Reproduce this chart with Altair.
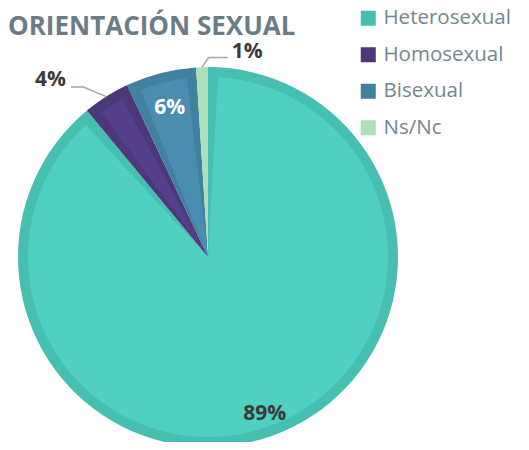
import math
import altair as alt
import pandas as pd

# ---- data ----
categories = ["Heterosexual", "Homosexual", "Bisexual", "Ns/Nc"]
values = [89, 4, 6, 1]
label_texts = ["89%", "4%", "6%", "1%"]

# ---- styles ----
border_colors = ["#46BFB0", "#4A3878", "#42809F", "#AEDFBB"]
fill_colors = ["#4FD0C1", "#533F8A", "#4A8DB1", "#AEDFBB"]
label_colors = {"Heterosexual": "#3A3A3A", "Bisexual": "#FFFFFF"}
TITLE_COLOR = "#6B7C87"
LEGEND_COLOR = "#758690"
LEADER_COLOR = "#A6A6A6"

# ---- layout ----
W, H = 513, 434
CX, CY, R = 200, 249, 190
RING = 10
# inside labels: radius factor ; outside labels: elbow offset (units) and tail length (units)
inside_layout = {"Heterosexual": 0.88, "Bisexual": 0.81}
outside_layout = {"Homosexual": (-0.12, 0.05, -0.065), "Ns/Nc": (0.035, 0.05, 0.10)}

pie_df = pd.DataFrame({"cat": categories, "value": values,
                       "order": list(range(len(categories)))})

total = float(sum(values))
cum = 0.0
in_rows, leader_rows, out_rows = [], [], []
for cat, v, txt in zip(categories, values, label_texts):
    mid = (cum + v / 2.0) / total * 2 * math.pi
    cum += v
    sx, sy = math.sin(mid), math.cos(mid)
    if cat in inside_layout:
        k = inside_layout[cat]
        in_rows.append({"cat": cat, "x": sx * k, "y": sy * k, "text": txt,
                        "tcolor": label_colors[cat]})
    else:
        ex, ey, tail = outside_layout[cat]
        p0 = (sx, sy)
        p1 = (sx + ex, sy + ey)
        p2 = (p1[0] + tail, p1[1])
        for i, (px, py) in enumerate([p0, p1, p2]):
            leader_rows.append({"cat": cat, "seq": i, "x": px, "y": py})
        out_rows.append({"cat": cat, "x": p2[0], "y": p2[1], "text": txt,
                         "side": "left" if tail < 0 else "right"})

in_df = pd.DataFrame(in_rows)
leader_df = pd.DataFrame(leader_rows)
out_df = pd.DataFrame(out_rows)

xscale = alt.Scale(domain=[-1, 1], range=[CX - R, CX + R])
yscale = alt.Scale(domain=[-1, 1], range=[CY + R, CY - R])

theta = alt.Theta("value:Q", stack=True)
order = alt.Order("order:Q")

outer = alt.Chart(pie_df).mark_arc(radius=R).encode(
    theta=theta, order=order,
    x=alt.value(CX), y=alt.value(CY),
    color=alt.Color("cat:N", sort=categories,
                    scale=alt.Scale(domain=categories, range=border_colors),
                    legend=alt.Legend(orient="none", legendX=350, legendY=0,
                                      title=None, symbolType="square",
                                      symbolSize=225, symbolStrokeWidth=0,
                                      symbolOpacity=1,
                                      labelFont="Open Sans", labelFontSize=20.5,
                                      labelColor=LEGEND_COLOR, labelOffset=5,
                                      rowPadding=15.5, padding=0)),
)

inner_r = R - RING
inner = alt.Chart(pie_df).mark_arc(radius=inner_r, padAngle=2 * RING / inner_r).encode(
    theta=theta, order=order,
    x=alt.value(CX), y=alt.value(CY),
    color=alt.Color("cat:N", sort=categories,
                    scale=alt.Scale(domain=categories, range=fill_colors),
                    legend=None),
)

leaders = alt.Chart(leader_df).mark_line(color=LEADER_COLOR, strokeWidth=1.5).encode(
    x=alt.X("x:Q", scale=xscale, axis=None),
    y=alt.Y("y:Q", scale=yscale, axis=None),
    detail="cat:N",
    order="seq:Q",
)

in_labels = alt.Chart(in_df).mark_text(font="Open Sans", fontSize=21,
                                       fontWeight="bold").encode(
    x=alt.X("x:Q", scale=xscale, axis=None),
    y=alt.Y("y:Q", scale=yscale, axis=None),
    text="text:N",
    color=alt.Color("tcolor:N", scale=None),
)

out_left = alt.Chart(out_df).transform_filter(alt.datum.side == "left").mark_text(
    font="Open Sans", fontSize=21, fontWeight="bold", color="#3A3A3A",
    align="right", dx=-5, dy=-7).encode(
    x=alt.X("x:Q", scale=xscale, axis=None),
    y=alt.Y("y:Q", scale=yscale, axis=None),
    text="text:N",
)

out_right = alt.Chart(out_df).transform_filter(alt.datum.side == "right").mark_text(
    font="Open Sans", fontSize=21, fontWeight="bold", color="#3A3A3A",
    align="left", dx=4, dy=-6).encode(
    x=alt.X("x:Q", scale=xscale, axis=None),
    y=alt.Y("y:Q", scale=yscale, axis=None),
    text="text:N",
)

chart = alt.layer(outer, inner, leaders, in_labels, out_left, out_right).resolve_scale(
    color="independent"
).properties(
    width=W, height=H, padding=0, background="white",
    autosize=alt.AutoSizeParams(type="none"),
    title=alt.TitleParams("ORIENTACIÓN SEXUAL", anchor="start", frame="group",
                          font="Open Sans", fontSize=26, fontWeight="bold",
                          color=TITLE_COLOR, baseline="top",
                          offset=0, dx=0, dy=32),
).configure_view(stroke=None)

chart.save("out.html", embed_options={"renderer": "svg", "actions": False})
